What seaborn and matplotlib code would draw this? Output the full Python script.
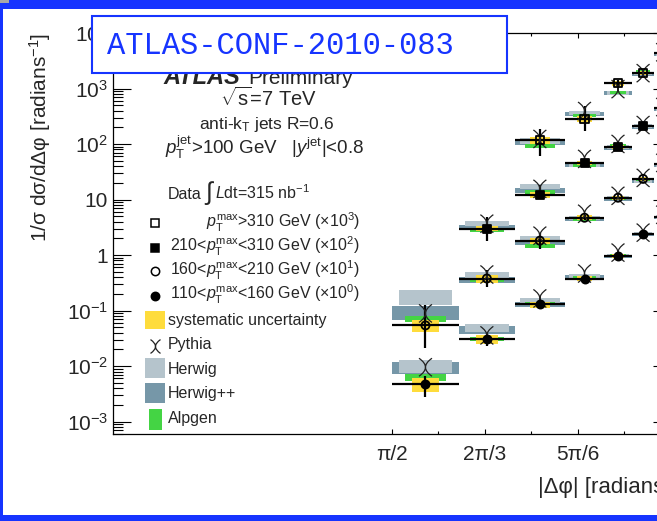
import numpy as np
import matplotlib
matplotlib.use("Agg")
import matplotlib.pyplot as plt
import seaborn as sns
from matplotlib.path import Path
from matplotlib.patches import Rectangle
from matplotlib.lines import Line2D
from matplotlib.ticker import FixedLocator, LogLocator, FuncFormatter, NullFormatter

nan = np.nan

# |Δφ| bin edges in units of π
dphi_edges_over_pi = [0.50, 0.62, 0.72, 0.81, 0.88, 0.93, 0.97, 1.00]

# rows: pT^max > 310, 210-310, 160-210, 110-160 GeV (scaled by 10^3 ... 10^0)
data_vals = [
    [nan, nan, 118.5, 282.0, 1250.0, 1890.0, 4320.0],
    [nan, 2.99, 12.2, 45.8, 88.7, 211.0, 445.0],
    [0.0542, 0.379, 1.82, 4.71, 10.8, 23.6, 44.0],
    [0.00473, 0.0304, 0.129, 0.379, 0.980, 2.43, 4.91],
]
# relative statistical uncertainty (down / up)
stat_down = [
    [nan, nan, 0.48, 0.39, 0.10, 0.08, 0.05],
    [nan, 0.39, 0.15, 0.10, 0.08, 0.05, 0.05],
    [0.61, 0.31, 0.28, 0.10, 0.06, 0.05, 0.05],
    [0.42, 0.24, 0.18, 0.07, 0.06, 0.05, 0.05],
]
stat_up = [
    [nan, nan, 0.58, 0.71, 0.12, 0.08, 0.05],
    [nan, 0.64, 0.50, 0.15, 0.10, 0.05, 0.05],
    [1.29, 0.45, 0.39, 0.12, 0.06, 0.05, 0.05],
    [0.39, 0.31, 0.22, 0.08, 0.06, 0.05, 0.05],
]
# relative systematic uncertainty (half height of the band)
syst_rel = [
    [nan, nan, 0.14, 0.12, 0.10, 0.08, 0.08],
    [nan, 0.10, 0.12, 0.10, 0.08, 0.08, 0.08],
    [0.23, 0.16, 0.12, 0.10, 0.08, 0.08, 0.08],
    [0.29, 0.19, 0.12, 0.10, 0.08, 0.08, 0.08],
]

# MC predictions
pythia_vals = [
    [nan, nan, 123.5, 393.0, 975.0, 1890.0, 4500.0],
    [nan, 3.68, 15.6, 54.0, 100.5, 220.0, 464.0],
    [0.0891, 0.447, 2.24, 5.56, 11.7, 24.6, 45.8],
    [0.00955, 0.0358, 0.1656, 0.466, 1.11, 2.54, 5.33],
]
herwig_vals = [
    [nan, nan, 113.8, 361.0, 826.0, 1890.0, 4150.0],
    [nan, 3.75, 17.0, 42.2, 88.7, 211.0, 427.0],
    [0.1836, 0.447, 1.98, 4.71, 10.8, 21.8, 42.2],
    [0.01017, 0.0499, 0.1525, 0.429, 0.98, 2.43, 4.90],
]
herwigpp_vals = [
    [nan, nan, 109.0, 347.0, 826.0, 1810.0, 4150.0],
    [nan, 3.12, 14.4, 42.2, 85.1, 203.0, 427.0],
    [0.0929, 0.363, 1.68, 4.52, 10.3, 21.8, 42.2],
    [0.00955, 0.0459, 0.129, 0.411, 0.94, 2.33, 4.71],
]
alpgen_vals = [
    [nan, nan, 92.5, 333.0, 861.0, 2050.0, 4500.0],
    [nan, 2.87, 13.8, 40.5, 96.4, 211.0, 445.0],
    [0.0724, 0.363, 1.48, 4.34, 10.3, 22.7, 42.2],
    [0.00619, 0.0310, 0.1346, 0.394, 0.98, 2.43, 4.90],
]
# relative half heights of the MC bands
herwig_band = [
    [nan, nan, 0.12, 0.08, 0.08, 0.07, 0.07],
    [nan, 0.10, 0.10, 0.08, 0.07, 0.07, 0.07],
    [0.30, 0.12, 0.10, 0.08, 0.07, 0.07, 0.07],
    [0.27, 0.16, 0.10, 0.08, 0.07, 0.07, 0.07],
]
herwigpp_band = [
    [nan, nan, 0.12, 0.08, 0.08, 0.07, 0.07],
    [nan, 0.10, 0.10, 0.08, 0.07, 0.07, 0.07],
    [0.28, 0.12, 0.10, 0.08, 0.07, 0.07, 0.07],
    [0.25, 0.16, 0.10, 0.08, 0.07, 0.07, 0.07],
]
alpgen_band = [
    [nan, nan, 0.08, 0.06, 0.06, 0.05, 0.05],
    [nan, 0.08, 0.08, 0.06, 0.05, 0.05, 0.05],
    [0.12, 0.08, 0.08, 0.06, 0.05, 0.05, 0.05],
    [0.145, 0.10, 0.08, 0.06, 0.05, 0.05, 0.05],
]

legend_labels = [
    r"$p_{\mathrm{T}}^{\mathrm{max}}$>310 GeV (×10$^{3}$)",
    r"210<$p_{\mathrm{T}}^{\mathrm{max}}$<310 GeV (×10$^{2}$)",
    r"160<$p_{\mathrm{T}}^{\mathrm{max}}$<210 GeV (×10$^{1}$)",
    r"110<$p_{\mathrm{T}}^{\mathrm{max}}$<160 GeV (×10$^{0}$)",
]
x_tick_vals = [np.pi / 2, 2 * np.pi / 3, 5 * np.pi / 6, np.pi]
x_tick_labels = ["π/2", "2π/3", "5π/6", ""]
x_minor_vals = [7 * np.pi / 12, 3 * np.pi / 4, 11 * np.pi / 12]

# ---------------------------------------------------------------- style
sns.set_theme(style="ticks")
plt.rcParams["font.family"] = ["Liberation Sans", "DejaVu Sans"]
plt.rcParams["mathtext.fontset"] = "custom"
plt.rcParams["mathtext.rm"] = "Liberation Sans"
plt.rcParams["mathtext.it"] = "Liberation Sans:italic"
plt.rcParams["mathtext.bf"] = "Liberation Sans:bold"
plt.rcParams["axes.edgecolor"] = "black"
plt.rcParams["axes.linewidth"] = 0.9

YELLOW = "#fedc3c"
HERWIG = "#b5c4cc"
HERWIGPP = "#7697a8"
ALPGEN = "#44d444"
BLUE = "#1634ff"

marker_shapes = ["s", "s", "o", "o"]
marker_open = [True, False, True, False]

# Pythia marker: two bowed strokes meeting in the middle
pythia_marker = Path(
    [(-0.36, 0.5), (0.36, 0.0), (-0.36, -0.5), (0.36, 0.5), (-0.36, 0.0), (0.36, -0.5)],
    [Path.MOVETO, Path.CURVE3, Path.CURVE3, Path.MOVETO, Path.CURVE3, Path.CURVE3],
)

W, H = 657, 521
fig = plt.figure(figsize=(W / 100, H / 100), dpi=100)
fig.patch.set_facecolor("white")
ax = fig.add_axes([113 / W, (H - 434) / H, 558 / W, 401 / H])
ax.set_facecolor("white")
ax.set_yscale("log")

edges = np.array(dphi_edges_over_pi) * np.pi
centers = 0.5 * (edges[:-1] + edges[1:])
widths = np.diff(edges)

for i in range(4):
    v = np.array(data_vals[i])
    m = ~np.isnan(v)
    x, w, v = centers[m], widths[m], v[m]

    for vals, band, frac, col, z in [
        (herwigpp_vals, herwigpp_band, 1.0, HERWIGPP, 2),
        (herwig_vals, herwig_band, 0.8, HERWIG, 3),
        (alpgen_vals, alpgen_band, 0.6, ALPGEN, 4),
    ]:
        mv = np.array(vals[i])[m]
        b = np.array(band[i])[m]
        ax.bar(x, 2 * b * mv, width=frac * w, bottom=mv * (1 - b),
               color=col, linewidth=0, zorder=z)

    s = np.array(syst_rel[i])[m]
    ax.bar(x, 2 * s * v, width=0.4 * w, bottom=v * (1 - s),
           color=YELLOW, linewidth=0, zorder=5)

    lo = v * np.array(stat_down[i])[m]
    hi = v * np.array(stat_up[i])[m]
    ax.errorbar(x, v, xerr=w / 2, yerr=[lo, hi], fmt="none", ecolor="black",
                elinewidth=1.6, capsize=0, zorder=6)

    py = np.array(pythia_vals[i])[m]
    sns.scatterplot(x=x, y=py, marker=pythia_marker, s=13 ** 2, facecolor="none",
                    edgecolor="#222222", color="#222222", linewidth=0.9,
                    ax=ax, zorder=7, legend=False)

    kw = dict(facecolor="none") if marker_open[i] else dict(facecolor="black")
    sns.scatterplot(x=x, y=v, marker=marker_shapes[i], s=34, edgecolor="black",
                    color="black", linewidth=1.3, ax=ax, zorder=8, legend=False, **kw)

ax.set_xlim(0, np.pi)
ax.set_ylim(6e-4, 1e4)

ax.xaxis.set_major_locator(FixedLocator(x_tick_vals))
ax.xaxis.set_minor_locator(FixedLocator(x_minor_vals))
ax.set_xticklabels(x_tick_labels)


def ylab(val, pos):
    e = int(round(np.log10(val)))
    if e == 0:
        return "1"
    if e == 1:
        return "10"
    return r"$10^{%d}$" % e


ax.yaxis.set_major_locator(LogLocator(base=10, numticks=20))
ax.yaxis.set_minor_locator(LogLocator(base=10, subs=np.arange(2, 10), numticks=20))
ax.yaxis.set_major_formatter(FuncFormatter(ylab))
ax.yaxis.set_minor_formatter(NullFormatter())

ax.tick_params(which="both", direction="in", top=True, right=True, color="black", width=0.8)
ax.tick_params(axis="y", which="major", length=13, labelsize=15, pad=3.5)
ax.tick_params(axis="y", which="minor", length=7.5)
ax.tick_params(axis="x", which="major", length=3.6, labelsize=15, pad=8)
ax.tick_params(axis="x", which="minor", length=2.2)

ax.set_xlabel("|Δφ| [radians]", fontsize=16, loc="right")
ax.xaxis.set_label_coords(1.0, -0.107)
ax.set_ylabel(r"1/σ dσ/dΔφ [radians$^{-1}$]", fontsize=15, loc="top")
ax.yaxis.set_label_coords(-0.108, 1.0)


def fx(px):
    return px / W


def fy(py):
    return 1 - py / H


# header text
fig.text(fx(163), fy(84), "ATLAS", fontsize=17, fontweight="bold", fontstyle="italic")
fig.text(fx(248), fy(84), "Preliminary", fontsize=15)
fig.text(fx(268), fy(106), r"$\sqrt{\mathrm{s}}$=7 TeV", fontsize=14.5, ha="center")
fig.text(fx(267), fy(129), r"anti-k$_{\mathrm{T}}$ jets R=0.6", fontsize=12.5, ha="center")
fig.text(fx(165), fy(154), r"$p_{\mathrm{T}}^{\mathrm{jet}}$>100 GeV   |$y^{\mathrm{jet}}$|<0.8",
         fontsize=13.5)

# legend
fig.text(fx(168), fy(199), "Data", fontsize=11.5)
fig.text(fx(205), fy(200), "∫", fontsize=18)
fig.text(fx(215), fy(199), r"$L$dt=315 nb$^{-1}$", fontsize=11.5)
row_base = [227, 252, 275, 299]
row_mark = [223, 248, 271, 296]
for i in range(4):
    fig.text(fx(360), fy(row_base[i]), legend_labels[i], fontsize=11.5, ha="right")
    fig.add_artist(Line2D([fx(155)], [fy(row_mark[i])], marker=marker_shapes[i],
                          markersize=6, markeredgewidth=1.1, markeredgecolor="black",
                          markerfacecolor="none" if marker_open[i] else "black",
                          linestyle="none", transform=fig.transFigure))

for (x0, x1, y0, y1, col, label, base) in [
    (145, 165, 311, 329, YELLOW, "systematic uncertainty", 325),
    (145, 165, 358, 378, HERWIG, "Herwig", 374),
    (145, 165, 383, 403, HERWIGPP, "Herwig++", 398),
    (149, 162, 409, 430, ALPGEN, "Alpgen", 423),
]:
    fig.add_artist(Rectangle((fx(x0), fy(y1)), (x1 - x0) / W, (y1 - y0) / H,
                             transform=fig.transFigure, facecolor=col, linewidth=0))
    fig.text(fx(168), fy(base), label, fontsize=11.5)

fig.add_artist(Line2D([fx(155)], [fy(346)], marker=pythia_marker, markersize=10,
                      markeredgewidth=0.9, markeredgecolor="#222222",
                      markerfacecolor="none", linestyle="none",
                      transform=fig.transFigure))
fig.text(fx(168), fy(349), "Pythia", fontsize=11.5)

# note box
fig.add_artist(Rectangle((fx(92), fy(73)), (507 - 92) / W, (73 - 16) / H,
                         transform=fig.transFigure, facecolor="white",
                         edgecolor=BLUE, linewidth=1.5, zorder=10))
fig.text(fx(107), fy(53.5), "ATLAS-CONF-2010-083", fontsize=22, color=BLUE,
         family="Liberation Mono", zorder=11)

# page frame
fig.add_artist(Rectangle((0, fy(8.5)), 1, 8.5 / H, transform=fig.transFigure,
                         facecolor=BLUE, linewidth=0, zorder=20))
fig.add_artist(Rectangle((0, 0), 2.5 / W, 1, transform=fig.transFigure,
                         facecolor=BLUE, linewidth=0, zorder=20))
fig.add_artist(Rectangle((0, 0), 1, 6 / H, transform=fig.transFigure,
                         facecolor=BLUE, linewidth=0, zorder=20))
fig.add_artist(Rectangle((0, fy(3)), 9 / W, 3 / H, transform=fig.transFigure,
                         facecolor="#a8a8a8", linewidth=0, zorder=21))

fig.savefig("out.png", dpi=100)
